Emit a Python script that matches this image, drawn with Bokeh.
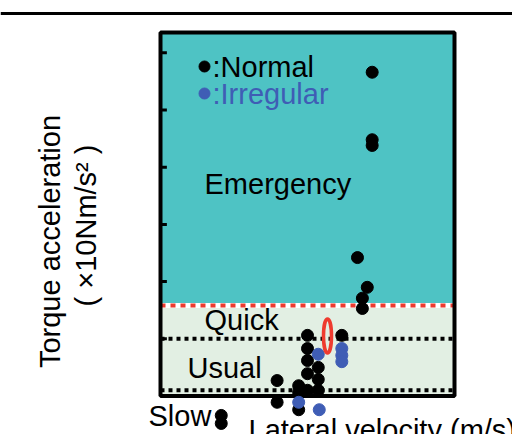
import math
from bokeh.plotting import figure
from bokeh.models import Range1d, Span
from bokeh.core.properties import value
from bokeh.embed import file_html
from bokeh.resources import INLINE

# ---- data (lateral velocity in m/s, torque acceleration in x10 Nm/s^2) ----
normal_vel = [2.16, 2.16, 2.16, 2.01, 2.11, 2.06, 2.06, 1.85, 1.50, 1.50, 1.50, 1.50,
              1.50, 1.41, 1.41, 1.61, 1.61, 1.61, 1.19, 1.19, 1.41, 0.62, 0.62]
normal_acc = [5.66, 4.48, 4.38, 2.42, 1.90, 1.71, 1.53, 1.06, 1.06, 0.83, 0.62, 0.39,
              0.10, 0.18, 0.06, 0.50, 0.29, 0.10, 0.27, -0.11, -0.24, -0.34, -0.48]
irregular_vel = [1.61, 1.85, 1.85, 1.85, 1.41, 1.62]
irregular_acc = [0.73, 0.83, 0.71, 0.60, -0.11, -0.24]

y_ticks = [1, 2, 3, 4, 5, 6]
threshold_emergency = 1.58
threshold_quick = 1.0
threshold_slow = 0.1
x_max = 3.0
y_max = 6.355

# ---- page mapping helpers (layout only) ----
PXX, X0 = 98.0, 160.0
PXY, Y0 = 57.2, 395.5
def dx(px):
    return (px - X0) / PXX
def dy(py):
    return (Y0 - py) / PXY

W, H = 512, 434
p = figure(width=W, height=H, output_backend="svg", toolbar_location=None,
           x_range=Range1d(dx(0), dx(W)), y_range=Range1d(dy(H), dy(0)),
           min_border=0)
p.axis.visible = False
p.grid.visible = False
p.outline_line_color = None
p.background_fill_color = "white"
p.border_fill_color = "white"

FONT = value("Liberation Sans")
FS = value("29px")

TEAL = "#4EC3C4"
LIGHT = "#E2EFE3"
BLUE = "#3F5DB5"
RED = "#EE3B2F"

# regions
p.quad(left=[0], right=[x_max], bottom=[threshold_emergency], top=[y_max],
       fill_color=TEAL, line_color=None)
p.quad(left=[0], right=[x_max], bottom=[0], top=[threshold_emergency],
       fill_color=LIGHT, line_color=None)

# thresholds
p.line([0, x_max], [threshold_emergency] * 2, line_color="white", line_width=5)
p.line([0, x_max], [threshold_emergency] * 2, line_color=RED, line_width=4,
       line_dash="5 5")
p.line([0, x_max], [threshold_quick] * 2, line_color="black", line_width=4,
       line_dash="4 4")
p.line([0, x_max], [threshold_slow] * 2, line_color="black", line_width=4,
       line_dash="4 4")

# ticks (inward, left)
p.segment(x0=[0] * len(y_ticks), y0=y_ticks, x1=[0.065] * len(y_ticks), y1=y_ticks,
          line_color="black", line_width=3)

# frame
p.quad(left=[0], right=[x_max], bottom=[0], top=[y_max],
       fill_color=None, line_color="black", line_width=4)

# top rule
p.add_layout(Span(location=dy(13), dimension="width", line_color="black",
                  line_width=3))

# points
p.scatter(normal_vel, normal_acc, size=12, color="black")
p.scatter(irregular_vel, irregular_acc, size=12, color=BLUE)

# highlight ellipse
p.ellipse(x=[dx(327)], y=[dy(335.5)], width=8 / PXX, height=34 / PXY,
          fill_color=None, line_color=RED, line_width=3.5)

# legend
p.scatter([dx(204)], [dy(66)], size=11, color="black")
p.scatter([dx(204)], [dy(93)], size=11, color=BLUE)
p.text([dx(212)], [dy(66)], text=[":Normal"], text_font=FONT, text_font_size=FS,
       text_color="black", text_baseline="alphabetic")
p.text([dx(212)], [dy(93.5)], text=[":Irregular"], text_font=FONT, text_font_size=FS,
       text_color=BLUE, text_baseline="alphabetic")

# region labels
labels = ["Emergency", "Quick", "Usual", "Slow"]
lx = [dx(204), dx(204), dx(187), dx(148)]
ly = [dy(183), dy(319), dy(367), dy(415)]
p.text(lx, ly, text=labels, text_font=FONT, text_font_size=FS,
       text_color="black", text_baseline="alphabetic")

# axis titles
p.text([dx(248)], [dy(429)], text=["Lateral velocity (m/s)"], text_font=FONT,
       text_font_size=FS, text_color="black", text_baseline="alphabetic")
p.text([dx(49)], [dy(241)], text=["Torque acceleration"], text_font=FONT,
       text_font_size=FS, angle=math.pi / 2, text_align="center",
       text_baseline="middle", text_color="black")
p.text([dx(85)], [dy(225)], text=["( ×10Nm/s² )"], text_font=FONT,
       text_font_size=FS, angle=math.pi / 2, text_align="center",
       text_baseline="middle", text_color="black")

open("out.html", "w").write(file_html(p, INLINE))
